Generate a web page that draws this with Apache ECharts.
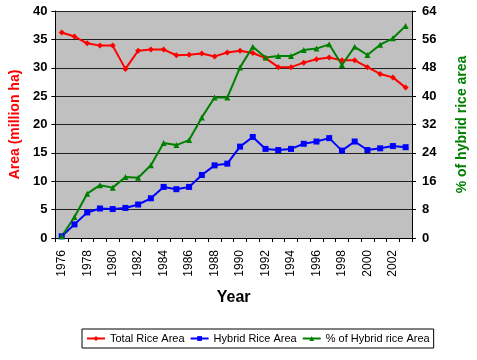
<!DOCTYPE html>
<html><head><meta charset="utf-8">
<script src="https://cdn.jsdelivr.net/npm/echarts@6/dist/echarts.min.js"></script>
<style>html,body{margin:0;padding:0;background:#fff}#c{width:477px;height:360px}</style>
</head><body><div id="c"></div>
<script>
const years = ['1976','1977','1978','1979','1980','1981','1982','1983','1984','1985','1986','1987','1988','1989','1990','1991','1992','1993','1994','1995','1996','1997','1998','1999','2000','2001','2002','2003'];
const totalRiceArea = [36.2,35.5,34.3,33.9,33.9,29.8,33.0,33.2,33.2,32.2,32.3,32.5,32.0,32.7,33.0,32.6,31.7,30.1,30.1,30.9,31.5,31.8,31.3,31.3,30.1,28.9,28.3,26.5];
const hybridRiceArea = [0.3,2.4,4.5,5.2,5.1,5.3,5.9,7.0,9.0,8.6,9.0,11.1,12.8,13.1,16.1,17.8,15.7,15.5,15.7,16.6,17.0,17.6,15.4,17.0,15.5,15.8,16.2,16.0];
const pctHybrid = [0.5,5.9,12.5,14.9,14.2,17.2,17.0,20.5,26.8,26.2,27.6,34.0,39.6,39.6,48.1,53.9,50.9,51.3,51.3,53.0,53.4,54.6,48.8,53.9,51.6,54.5,56.3,59.8];

const FONT = 'Liberation Sans, Arial, sans-serif';
const chart = echarts.init(document.getElementById('c'));
chart.setOption({
  animation: false,
  backgroundColor: '#fff',
  textStyle: { fontFamily: FONT },
  grid: { left: 52, right: 61, top: 11, bottom: 122, show: true, backgroundColor: '#c0c0c0', borderWidth: 0 },
  legend: {
    bottom: 12, left: 82,
    backgroundColor: '#fff', borderColor: '#000', borderWidth: 1, padding: [4, 4, 4, 4],
    itemWidth: 18, itemHeight: 6, itemGap: 5,
    textStyle: { fontFamily: FONT, fontSize: 11, color: '#000' },
    data: ['Total Rice Area', 'Hybrid Rice Area', '% of Hybrid rice Area']
  },
  xAxis: {
    type: 'category', data: years, boundaryGap: true,
    name: 'Year', nameLocation: 'middle', nameGap: 52,
    nameTextStyle: { fontFamily: FONT, fontSize: 16, fontWeight: 'bold', color: '#000' },
    axisLine: { lineStyle: { color: '#000', width: 1 } },
    axisTick: { show: true, interval: 0, length: 4, lineStyle: { color: '#000' } },
    axisLabel: { interval: 1, rotate: 90, fontSize: 12, color: '#000', fontFamily: FONT, margin: 12 },
    splitLine: { show: false }
  },
  yAxis: [
    {
      type: 'value', min: 0, max: 40, interval: 5, position: 'left',
      name: 'Area (million ha)', nameLocation: 'middle', nameGap: 31, nameRotate: 90,
      nameTextStyle: { fontFamily: FONT, fontSize: 14, fontWeight: 'bold', color: '#ff0000' },
      axisLine: { show: true, lineStyle: { color: '#000', width: 1 } },
      axisTick: { show: true, length: 4, lineStyle: { color: '#000' } },
      axisLabel: { fontSize: 13, fontWeight: 'bold', color: '#000', fontFamily: FONT, margin: 8 },
      splitLine: { show: true, lineStyle: { color: '#222', width: 1 } }
    },
    {
      type: 'value', min: 0, max: 64, interval: 8, position: 'right',
      name: '% of hybrid rice area', nameLocation: 'middle', nameGap: 43, nameRotate: 90,
      nameTextStyle: { fontFamily: FONT, fontSize: 14, fontWeight: 'bold', color: '#008000' },
      axisLine: { show: true, lineStyle: { color: '#000', width: 1 } },
      axisTick: { show: true, length: 4, lineStyle: { color: '#000' } },
      axisLabel: { fontSize: 13, fontWeight: 'bold', color: '#000', fontFamily: FONT, margin: 10 },
      splitLine: { show: false }
    }
  ],
  series: [
    { name: 'Total Rice Area', type: 'line', yAxisIndex: 0, data: totalRiceArea,
      symbol: 'diamond', symbolSize: 6, itemStyle: { color: '#ff0000' }, lineStyle: { color: '#ff0000', width: 2 } },
    { name: 'Hybrid Rice Area', type: 'line', yAxisIndex: 0, data: hybridRiceArea,
      symbol: 'rect', symbolSize: 6, itemStyle: { color: '#0000ff' }, lineStyle: { color: '#0000ff', width: 2 } },
    { name: '% of Hybrid rice Area', type: 'line', yAxisIndex: 1, data: pctHybrid,
      symbol: 'triangle', symbolSize: 6, itemStyle: { color: '#008000' }, lineStyle: { color: '#008000', width: 2 } }
  ]
});
</script></body></html>
